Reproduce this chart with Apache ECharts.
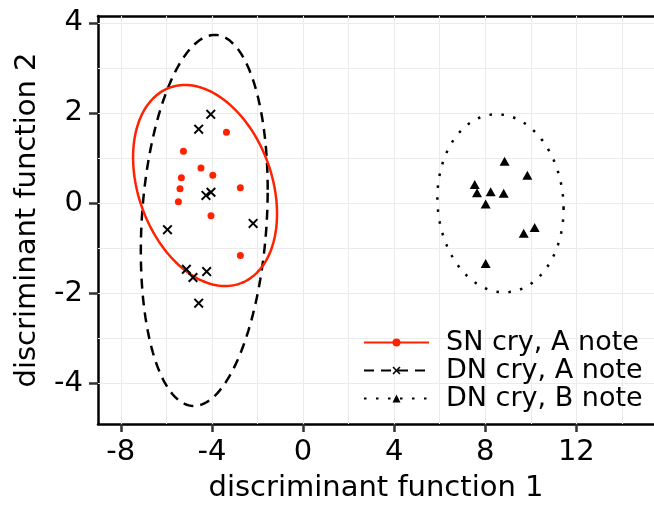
<!DOCTYPE html>
<html lang="en">
<head>
    <meta charset="UTF-8">
    <title>Discriminant functions</title>
    <script src="https://cdn.jsdelivr.net/npm/echarts@6/dist/echarts.min.js"></script>
    <style>
        html, body { margin: 0; padding: 0; background: #fff; }
        #chart { width: 654px; height: 508px; }
    </style>
</head>
<body>
    <div id="chart"></div>
    <script>
        // points: [df1, df2]
        const snCryA = [
            [-3.36, 1.57], [-5.25, 1.15], [-4.48, 0.78], [-3.96, 0.62], [-5.34, 0.56],
            [-5.40, 0.32], [-2.75, 0.34], [-5.47, 0.03], [-4.04, -0.28], [-2.75, -1.16]
        ];
        const dnCryA = [
            [-4.05, 1.97], [-4.58, 1.64], [-4.04, 0.24], [-4.26, 0.17], [-2.19, -0.45],
            [-5.95, -0.59], [-5.12, -1.47], [-4.83, -1.65], [-4.23, -1.52], [-4.58, -2.22]
        ];
        const dnCryB = [
            [8.85, 0.93], [9.85, 0.62], [7.54, 0.41], [7.64, 0.23], [8.24, 0.25],
            [8.81, 0.22], [8.02, -0.02], [10.17, -0.54], [9.69, -0.67], [8.02, -1.34]
        ];

        // ellipses: centre x, centre y, half width, half height, correlation
        const snEllipse = [-4.30, 0.39, 3.16, 2.23, -0.28];
        const dnAEllipse = [-4.335, -0.385, 2.785, 4.115, 0.165];
        const dnBEllipse = [8.67, -0.005, 2.77, 1.975, -0.06];

        const seriesNames = ['SN cry, A note', 'DN cry, A note', 'DN cry, B note'];
        const xTicks = [-8, -4, 0, 4, 8, 12];
        const yTicks = [-4, -2, 0, 2, 4];
        const xGrid = [-8, -6, -4, -2, 0, 2, 4, 6, 8, 10, 12, 14];
        const yGrid = [-4, -3, -2, -1, 0, 1, 2, 3, 4];

        const red = '#ff2200';
        const crossPath = 'path://M1.4,0L5,3.6L8.6,0L10,1.4L6.4,5L10,8.6L8.6,10L5,6.4L1.4,10L0,8.6L3.6,5L0,1.4Z';

        // outline of an ellipse in data units
        function ellipsePoints(e) {
            const [cx, cy, sx, sy, r] = e;
            const k = Math.sqrt(1 - r * r);
            const pts = [];
            for (let i = 0; i <= 180; i++) {
                const t = i / 180 * Math.PI * 2;
                pts.push([cx + sx * Math.cos(t), cy + sy * (r * Math.cos(t) + k * Math.sin(t))]);
            }
            return pts;
        }

        const font = 'DejaVu Sans';
        const chart = echarts.init(document.getElementById('chart'));

        const gridMarks = xGrid.map(v => ({ xAxis: v })).concat(yGrid.map(v => ({ yAxis: v })));

        chart.setOption({
            animation: false,
            textStyle: { fontFamily: font, color: '#000' },
            grid: { left: 98, right: 0, top: 16, bottom: 84 },
            legend: {
                data: seriesNames,
                orient: 'vertical',
                left: 363,
                top: 329,
                padding: 0,
                itemGap: 1,
                itemWidth: 65,
                itemHeight: 10,
                textStyle: { fontFamily: font, fontSize: 27, color: '#000', lineHeight: 25, padding: [0, 0, 0, 12] }
            },
            xAxis: [{
                type: 'value',
                min: -9,
                max: 15.41,
                name: 'discriminant function 1',
                nameLocation: 'middle',
                nameGap: 50,
                nameTextStyle: { fontFamily: font, fontSize: 29, color: '#000' },
                axisLine: { onZero: false, lineStyle: { color: '#000', width: 2.5 } },
                axisTick: { customValues: xTicks, length: 8, lineStyle: { color: '#333', width: 2.5 } },
                axisLabel: { customValues: xTicks, fontSize: 29, color: '#000', margin: 14, fontFamily: font },
                splitLine: { show: false }
            }, {
                type: 'value',
                position: 'top',
                min: -9,
                max: 15.41,
                axisLine: { onZero: false, lineStyle: { color: '#000', width: 2.5 } },
                axisTick: { show: false },
                axisLabel: { show: false },
                splitLine: { show: false }
            }],
            yAxis: {
                type: 'value',
                min: -4.9,
                max: 4.15,
                name: 'discriminant function 2',
                nameLocation: 'middle',
                nameGap: 56,
                nameTextStyle: { fontFamily: font, fontSize: 29, color: '#000' },
                axisLine: { onZero: false, lineStyle: { color: '#000', width: 2.5 } },
                axisTick: { customValues: yTicks, length: 9, lineStyle: { color: '#333', width: 2.5 } },
                axisLabel: { customValues: yTicks, fontSize: 29, color: '#000', margin: 15, fontFamily: font },
                splitLine: { show: false }
            },
            series: [
                {
                    name: 'grid',
                    type: 'scatter',
                    data: [],
                    z: 1,
                    silent: true,
                    markLine: {
                        silent: true,
                        z: 1,
                        symbol: ['none', 'none'],
                        label: { show: false },
                        lineStyle: { color: '#ebebeb', width: 1, type: 'solid' },
                        emphasis: { disabled: true },
                        data: gridMarks
                    }
                },
                {
                    name: seriesNames[0],
                    type: 'line',
                    data: ellipsePoints(snEllipse),
                    symbol: 'circle',
                    showSymbol: false,
                    z: 3,
                    itemStyle: { color: red },
                    lineStyle: { color: red, width: 2.5 }
                },
                {
                    name: seriesNames[1],
                    type: 'line',
                    data: ellipsePoints(dnAEllipse),
                    symbol: crossPath,
                    showSymbol: false,
                    z: 2,
                    itemStyle: { color: '#000' },
                    lineStyle: { color: '#000', width: 2.5, type: [10, 7] }
                },
                {
                    name: seriesNames[2],
                    type: 'line',
                    data: ellipsePoints(dnBEllipse),
                    symbol: 'triangle',
                    showSymbol: false,
                    z: 2,
                    itemStyle: { color: '#000' },
                    lineStyle: { color: '#000', width: 2.5, type: [2.5, 9.5] }
                },
                {
                    name: seriesNames[0],
                    type: 'scatter',
                    data: snCryA,
                    symbol: 'circle',
                    symbolSize: 7,
                    z: 4,
                    itemStyle: { color: red, opacity: 1 }
                },
                {
                    name: seriesNames[1],
                    type: 'scatter',
                    data: dnCryA,
                    symbol: crossPath,
                    symbolSize: 10,
                    z: 4,
                    itemStyle: { color: '#000', opacity: 1 }
                },
                {
                    name: seriesNames[2],
                    type: 'scatter',
                    data: dnCryB,
                    symbol: 'triangle',
                    symbolSize: [10, 9],
                    z: 4,
                    itemStyle: { color: '#000', opacity: 1 }
                }
            ]
        });
    </script>
</body>
</html>
